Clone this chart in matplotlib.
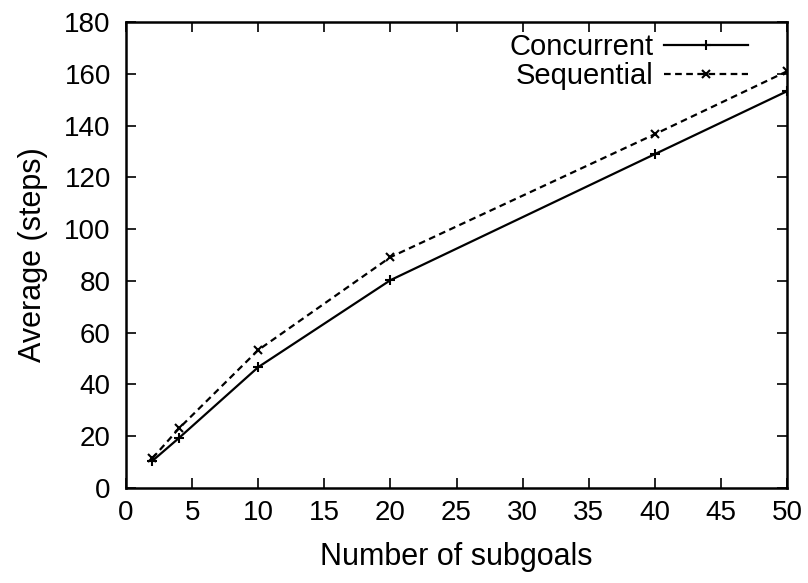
import matplotlib
matplotlib.use("Agg")
import matplotlib.pyplot as plt

plt.rcParams['font.family'] = ['Liberation Sans', 'DejaVu Sans']

subgoals = [2, 4, 10, 20, 40, 50]
concurrent = [10.5, 19.3, 46.7, 80.3, 129, 153.3]
sequential = [11.5, 23, 53.3, 89.2, 136.7, 161]
xticks = list(range(0, 51, 5))
yticks = list(range(0, 181, 20))

fig = plt.figure(figsize=(8.08, 5.83), dpi=100)
ax = fig.add_axes([0.156, 0.163, 0.818, 0.799])

ax.plot(subgoals, concurrent, color='black', lw=1.6, marker='+', ms=7, mew=1.5,
        label='Concurrent')
ax.plot(subgoals, sequential, color='black', lw=1.6, ls=(0, (3, 2)), marker='x',
        ms=6, mew=1.5, label='Sequential')

ax.set_xlim(0, 50)
ax.set_ylim(0, 180)
ax.set_xticks(xticks)
ax.set_yticks(yticks)
ax.tick_params(direction='in', top=True, right=True, length=7, width=1.2,
               labelsize=20)
ax.tick_params(axis='y', pad=11)
ax.tick_params(axis='x', pad=9)
for s in ax.spines.values():
    s.set_linewidth(1.8)
ax.set_xlabel('Number of subgoals', fontsize=22, labelpad=11)
ax.set_ylabel('Average (steps)', fontsize=22, labelpad=12)

leg = ax.legend(loc='upper right', bbox_to_anchor=(0.946, 0.983),
                frameon=False, markerfirst=False,
                fontsize=21, handlelength=2.9, handletextpad=0.35,
                labelspacing=0.05, borderaxespad=0.0, borderpad=0.1)
for t in leg.get_texts():
    t.set_ha('right')

fig.savefig('out.png', dpi=100)
